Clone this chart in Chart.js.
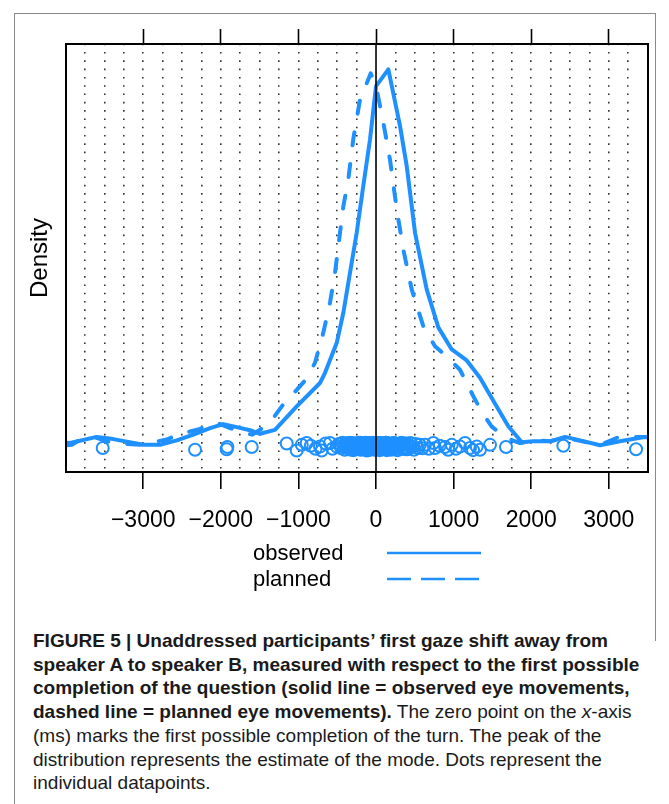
<!DOCTYPE html>
<html>
<head>
<meta charset="utf-8">
<script src="https://cdn.jsdelivr.net/npm/chart.js@4.4.1/dist/chart.umd.min.js"></script>
<style>
  html, body { margin: 0; padding: 0; background: #fff; }
  body { width: 669px; height: 804px; position: relative; overflow: hidden; font-family: "Liberation Sans", Arial, sans-serif; }
  #plot { position: absolute; left: 0; top: 0; }
  .frame-a { position: absolute; left: 14px; top: 13px; width: 642px; height: 628px; box-sizing: border-box;
             border: 1.5px solid #8a8a8a; border-bottom: none; }
  .frame-b { position: absolute; left: 14px; top: 640px; height: 164px; border-left: 1.5px solid #8a8a8a; }
  .key { position: absolute; left: 253px; font-size: 22px; line-height: 26px; color: #000; }
  .keyline { position: absolute; left: 386px; }
  .caption { position: absolute; left: 33px; top: 629px; font-size: 18.5px; line-height: 23.7px; color: #1a1a1a;
             white-space: nowrap; transform-origin: 0 0; font-family: "Liberation Sans", Arial, sans-serif; }
  .caption div { display: block; }
  .caption span.l { display: inline-block; }
</style>
</head>
<body>
<div class="frame-a"></div>
<div class="frame-b"></div>
<canvas id="plot" width="669" height="600"></canvas>

<div class="key" style="top:540px">observed</div>
<div class="key" style="top:566px">planned</div>
<svg class="keyline" style="top:543px" width="100" height="20">
  <line x1="1" y1="10" x2="95" y2="10" stroke="#1e90ff" stroke-width="2.6"/>
</svg>
<svg class="keyline" style="top:569px" width="100" height="20">
  <line x1="1" y1="10" x2="95" y2="10" stroke="#1e90ff" stroke-width="2.6" stroke-dasharray="24 10"/>
</svg>

<div class="caption" id="caption">
<div><span class="l" id="firstLine"><b>FIGURE 5 | Unaddressed participants’ first gaze shift away from</b></span></div>
<div><b>speaker A to speaker B, measured with respect to the first possible</b></div>
<div><b>completion of the question (solid line = observed eye movements,</b></div>
<div><b>dashed line = planned eye movements).</b> The zero point on the <i>x</i>-axis</div>
<div>(ms) marks the first possible completion of the turn. The peak of the</div>
<div>distribution represents the estimate of the mode. Dots represent the</div>
<div>individual datapoints.</div>
</div>

<script>
// density values are in units of 10^-6 per ms
const observedX = [-3995, -3943, -3599, -3385, -2999, -2784, -2568, -2354, -2139, -1968, -1795, -1624, -1495, -1302,
  -1022, -722, -657, -506, -421, -335, -249, -164, -77, 0, 159, 309, 396, 503, 653, 803, 976, 1169, 1340, 1555,
  1705, 1878, 2023, 2242, 2436, 2629, 2887, 3144, 3441, 3505];
const observedY = [7, 6, 20, 15, 2, 2, 12, 25, 40, 49, 42, 35, 27, 36,
  89, 142, 165, 233, 301, 392, 482, 588, 694, 814, 852, 724, 633, 482, 354, 268, 218, 193, 154, 89,
  44, 8, 10, 10, 20, 12, 1, 10, 19, 19];

const plannedX = [-3995, -3921, -3772, -3621, -3470, -3363, -3041, -2697, -2548, -2268, -2139, -2036, -1881, -1688,
  -1598, -1495, -1340, -1198, -1044, -893, -786, -679, -593, -528, -464, -421, -357, -293, -206, -68, 9, 94, 180,
  267, 352, 460, 610, 760, 911, 1082, 1254, 1362, 1491, 1598, 1727, 1856, 2049, 2242, 2436, 2629, 2887, 3106, 3402, 3505];
const plannedY = [1, 2, 18, 19, 10, 6, 2, 14, 25, 38, 48, 51, 40, 29,
  25, 36, 59, 93, 122, 152, 188, 256, 324, 392, 482, 542, 603, 694, 784, 843, 807, 732, 648,
  535, 444, 354, 270, 225, 202, 172, 112, 77, 43, 29, 14, 6, 12, 10, 18, 11, 2, 18, 20, 20];

// individual datapoints (ms) and their vertical jitter
const pointX = [-3522, -2332, -1924, -1915, -1602, -1151, -1022, -957, -893, -840, -780, -722, -700, -650, -593, -560, -506, -480,
  -462, -447, -431, -420, -404, -391, -383, -366, -350, -341,
  -327, -311, -302, -288, -270, -263, -249, -231, -224, -209,
  -197, -181, -176, -158, -150, -133, -121, -109, -97, -84,
  -72, -66, -49, -37, -30, -14, -6, 7, 18, 26,
  41, 50, 63, 71, 88, 96, 109, 117, 132, 141,
  153, 168, 174, 190, 203, 211, 229, 238, 254, 267,
  281, 296, 309, 327, 340, 358, 371, 392, 407, 426,
  444, 468, 489, 512, 539, 566, 597,
  631, 680, 738, 760, 820, 889, 930, 976, 1030, 1082, 1147, 1211, 1250, 1298, 1340, 1469, 1675, 2414, 3351,
  -355, -333, -318, -296, -279, -257, -241, -218, -203, -188,
  -169, -143, -127, -115, -92, -79, -58, -43, -21, -10,
  2, 12, 31, 37, 46, 57, 67, 79, 84, 101,
  113, 124, 137, 147, 160, 181, 196, 219, 233, 247,
  259, 274, 289, 315, 333, 364, 381];
const pointJitter = [-5, -9, -8, -3, -3, 5, -11, 2, 6, 0, -7, -2, -11, 5, 6, -7, -2, 4,
  3, -6, 7, -2, -9, 5, 0, -4, 6, -8,
  2, -1, 6, -10, 4, -5, 1, -7, 7, -3,
  -9, 5, -1, 3, -6, 7, -11, 0, 4, -4,
  6, -8, 2, -2, 5, -9, 1, 7, -5, -1,
  3, -10, 6, -3, 0, -7, 4, -2, 7, -8,
  1, -5, 5, -9, 2, -3, 6, -6, 0, 4,
  -10, 3, -1, 7, -7, 2, -4, 5, -8, 1,
  6, -3, -9, 4, -5, 2, -6,
  2, -7, 6, -5, 0, -3, -9, 2, -7, -2, 6, -5, -10, -2, -9, 2, -3, 0, -8,
  -4, 6, -9, 1, 5, -6, 3, -1, 7, -8,
  0, 4, -5, 6, -10, 2, -3, 7, -7, 1,
  5, -9, 3, -2, 6, -6, 0, 4, -8, 2,
  -4, 7, -10, 1, 5, -5, 3, -7, 6, -1,
  -9, 4, -3, 2, -6, 5, -8];

const tickLabels = [-3000, -2000, -1000, 0, 1000, 2000, 3000];
const gridStep = 250;

const blue = '#1e90ff';
const xMin = -3995, xMax = 3505;
const yMin = -59.5, yMax = 909.5;

// squeeze the caption to the condensed width of the original
const cap = document.getElementById('caption');
const firstW = document.getElementById('firstLine').getBoundingClientRect().width;
cap.style.transform = 'scaleX(' + (575 / firstW) + ')';

Chart.defaults.font.family = '"Liberation Sans", Arial, Helvetica, sans-serif';
Chart.defaults.color = '#000';

function gridTicks(scale) {
  const t = [];
  for (let v = -3750; v <= 3250; v += gridStep) t.push({ value: v });
  scale.ticks = t;
}
const isLabelled = v => tickLabels.includes(v);
const clear = 'rgba(0,0,0,0)';

const panelLines = {
  id: 'panelLines',
  afterDatasetsDraw(chart) {
    const { ctx, chartArea: a, scales } = chart;
    const x0 = scales.x.getPixelForValue(0);
    ctx.save();
    ctx.strokeStyle = '#000';
    ctx.lineWidth = 1.6;
    ctx.beginPath();
    ctx.moveTo(x0, a.top);
    ctx.lineTo(x0, a.bottom);
    ctx.stroke();
    ctx.lineWidth = 2;
    ctx.strokeRect(a.left, a.top, a.right - a.left, a.bottom - a.top);
    ctx.restore();
  }
};

new Chart(document.getElementById('plot'), {
  type: 'line',
  data: {
    datasets: [
      {
        label: 'observed',
        data: observedX.map((x, i) => ({ x, y: observedY[i] })),
        borderColor: blue,
        borderWidth: 4,
        pointRadius: 0,
        borderCapStyle: 'round',
        borderJoinStyle: 'round'
      },
      {
        label: 'planned',
        data: plannedX.map((x, i) => ({ x, y: plannedY[i] })),
        borderColor: blue,
        borderWidth: 4,
        borderDash: [13, 19],
        borderCapStyle: 'round',
        borderJoinStyle: 'round',
        pointRadius: 0
      },
      {
        label: 'datapoints',
        data: pointX.map((x, i) => ({ x, y: pointJitter[i] })),
        showLine: false,
        pointRadius: 6,
        pointBorderWidth: 2,
        pointBorderColor: blue,
        pointBackgroundColor: clear
      }
    ]
  },
  options: {
    responsive: false,
    animation: false,
    layout: { padding: { left: 0, right: 21, top: 0, bottom: 0 } },
    plugins: { legend: { display: false }, tooltip: { enabled: false } },
    scales: {
      x: {
        type: 'linear',
        position: 'bottom',
        min: xMin,
        max: xMax,
        afterBuildTicks: gridTicks,
        afterFit: s => { s.height = 128; },
        ticks: {
          autoSkip: false,
          maxRotation: 0,
          padding: 18,
          font: { size: 23 },
          callback: v => isLabelled(v) ? (v < 0 ? '\u2212' + Math.abs(v) : String(v)) : ''
        },
        grid: {
          color: c => (c.tick && c.tick.value === 0) ? clear : '#333',
          lineWidth: 1.6,
          tickColor: c => (c.tick && isLabelled(c.tick.value)) ? '#000' : clear,
          tickLength: 17,
          tickWidth: 1.6
        },
        border: { display: false, dash: [1.6, 6.7], dashOffset: 0.3 }
      },
      x2: {
        type: 'linear',
        position: 'top',
        min: xMin,
        max: xMax,
        afterBuildTicks: gridTicks,
        afterFit: s => { s.height = 44; },
        ticks: { display: false, autoSkip: false },
        grid: {
          drawOnChartArea: false,
          tickColor: c => (c.tick && isLabelled(c.tick.value)) ? '#000' : clear,
          tickLength: 15,
          tickWidth: 1.6
        },
        border: { display: false }
      },
      y: {
        min: yMin,
        max: yMax,
        afterFit: s => { s.width = 66; },
        ticks: { display: false },
        grid: { display: false, drawTicks: false },
        border: { display: false },
        title: { display: true, text: 'Density', font: { size: 24 }, color: '#000', padding: { top: 25.6, bottom: 0 } }
      }
    }
  },
  plugins: [panelLines]
});
</script>
</body>
</html>
